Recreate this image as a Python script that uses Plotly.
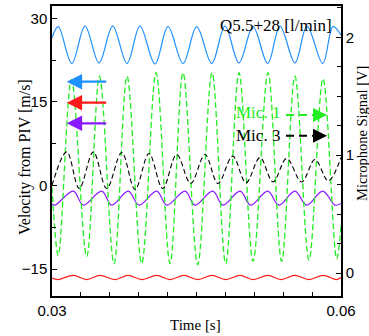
import plotly.graph_objects as go

# ---------------- data ----------------
blue_t = [0.03000, 0.03065, 0.03205, 0.03343, 0.03488, 0.03630, 0.03779, 0.03913,
          0.04069, 0.04204, 0.04360, 0.04502, 0.04658, 0.04796, 0.04941, 0.05087,
          0.05239, 0.05367, 0.05522, 0.05647, 0.05810, 0.05917, 0.06000]
blue_v = [26.5, 28.5, 21.9, 28.6, 22.0, 28.6, 21.9, 28.6, 21.8, 28.5, 21.9, 28.5,
          21.9, 28.6, 22.0, 28.5, 21.9, 28.6, 22.0, 28.6, 21.9, 28.5, 27.0]

purple_t = [0.03000, 0.03031, 0.03221, 0.03325, 0.03516, 0.03620, 0.03792, 0.03903,
            0.04087, 0.04191, 0.04381, 0.04484, 0.04668, 0.04775, 0.04952, 0.05063,
            0.05239, 0.05356, 0.05522, 0.05644, 0.05810, 0.05938, 0.06000]
purple_v = [-3.3, -3.5, -1.0, -3.5, -1.0, -3.5, -1.0, -3.5, -1.0, -3.5, -1.0, -3.5,
            -1.0, -3.5, -1.0, -3.5, -1.0, -3.5, -1.0, -3.5, -1.0, -3.5, -3.2]

red_t = [0.03000, 0.03062, 0.03221, 0.03360, 0.03498, 0.03654, 0.03789, 0.03934,
         0.04087, 0.04225, 0.04370, 0.04512, 0.04661, 0.04803, 0.04952, 0.05087,
         0.05242, 0.05377, 0.05522, 0.05668, 0.05813, 0.05955, 0.06000]
red_v = [-16.6, -16.85, -16.1, -16.85, -16.1, -16.85, -16.1, -16.85, -16.1, -16.85,
         -16.1, -16.85, -16.1, -16.85, -16.1, -16.85, -16.1, -16.85, -16.1, -16.85,
         -16.1, -16.85, -16.5]

mic1_t = [0.03000, 0.03065, 0.03202, 0.03360, 0.03493, 0.03644, 0.03779, 0.03931,
          0.04080, 0.04225, 0.04360, 0.04512, 0.04661, 0.04803, 0.04941, 0.05087,
          0.05242, 0.05384, 0.05522, 0.05668, 0.05813, 0.05955, 0.06000]
mic1_v = [0.73, 0.15, 1.64, 0.14, 1.67, 0.08, 1.67, 0.08, 1.70, 0.08, 1.70, 0.07,
          1.70, 0.08, 1.70, 0.10, 1.70, 0.10, 1.67, 0.11, 1.65, 0.12, 0.40]

mic3_t = [0.03000, 0.03153, 0.03283, 0.03429, 0.03568, 0.03724, 0.03862, 0.04007,
          0.04149, 0.04294, 0.04440, 0.04588, 0.04723, 0.04876, 0.05014, 0.05159,
          0.05294, 0.05436, 0.05592, 0.05730, 0.05868, 0.06000]
mic3_v = [0.745, 1.028, 0.717, 1.028, 0.717, 1.023, 0.709, 1.014, 0.717, 1.006,
          0.760, 1.006, 0.760, 0.992, 0.765, 0.980, 0.773, 0.972, 0.773, 0.963,
          0.782, 0.980]

x_ticks = [0.03, 0.06]
y_ticks = [-15, 0, 15, 30]
y2_ticks = [0, 1, 2]

title_text = "Q5.5+28 [l/min]"
mic1_label = "Mic. 1"
mic3_label = "Mic. 3"

# ---------------- figure ----------------
W, H = 369, 336
L, R, T, B = 52, 28, 6, 40
PW, PH = W - L - R, H - T - B


def px(x):
    return (x - L) / PW


def py(y):
    return (H - B - y) / PH


SERIF = "Liberation Serif, Times New Roman, serif"
SANS = "Liberation Sans, Arial, sans-serif"

BLUE = "#1E90FF"
RED = "#FF1A1A"
PURPLE = "#8A1AFF"
GREEN = "#22EE22"

fig = go.Figure()
fig.add_trace(go.Scatter(x=blue_t, y=blue_v, mode="lines", line=dict(color=BLUE, width=1.2, shape="spline"), yaxis="y"))
fig.add_trace(go.Scatter(x=mic1_t, y=mic1_v, mode="lines", line=dict(color=GREEN, width=1.3, shape="spline", dash="6px,3px"), yaxis="y2"))
fig.add_trace(go.Scatter(x=mic3_t, y=mic3_v, mode="lines", line=dict(color="black", width=1.1, shape="spline", dash="5px,3px"), yaxis="y2"))
fig.add_trace(go.Scatter(x=purple_t, y=purple_v, mode="lines", line=dict(color=PURPLE, width=1.2, shape="spline"), yaxis="y"))
fig.add_trace(go.Scatter(x=red_t, y=red_v, mode="lines", line=dict(color=RED, width=1.2, shape="spline"), yaxis="y"))

ann = []
shapes = []
# left-pointing solid arrows
for col, yy in [(BLUE, 81.7), (RED, 102.7), (PURPLE, 123.3)]:
    ann.append(dict(x=px(66.7), y=py(yy), xref="paper", yref="paper", text="", showarrow=True,
                    ax=41, ay=0, arrowhead=2, arrowsize=1.4, arrowwidth=2.2, arrowcolor=col))
# dashed right-pointing arrows
for col, yy in [(GREEN, 115), ("black", 135.7)]:
    shapes.append(dict(type="line", xref="paper", yref="paper", x0=px(286), x1=px(317),
                       y0=py(yy), y1=py(yy), line=dict(color=col, width=2, dash="8px,5px")))
    ann.append(dict(x=px(327), y=py(yy), xref="paper", yref="paper", text="", showarrow=True,
                    ax=-9, ay=0, arrowhead=2, arrowsize=1.4, arrowwidth=2, arrowcolor=col))

ann.append(dict(x=px(218), y=py(25), xref="paper", yref="paper", text=title_text, showarrow=False,
                xanchor="left", yanchor="middle", font=dict(family=SERIF, size=17, color="black")))
ann.append(dict(x=px(234), y=py(113), xref="paper", yref="paper", text=mic1_label, showarrow=False,
                xanchor="left", yanchor="middle", font=dict(family=SERIF, size=17, color=GREEN)))
ann.append(dict(x=px(234), y=py(135), xref="paper", yref="paper", text=mic3_label, showarrow=False,
                xanchor="left", yanchor="middle", font=dict(family=SERIF, size=17, color="black")))
# axis titles
ann.append(dict(x=px(25), y=py(157), xref="paper", yref="paper", text="Velocity from PIV [m/s]", showarrow=False,
                textangle=-90, xanchor="center", yanchor="middle", font=dict(family=SERIF, size=16, color="black")))
ann.append(dict(x=px(362), y=py(134), xref="paper", yref="paper", text="Microphone Signal [V]", showarrow=False,
                textangle=-90, xanchor="center", yanchor="middle", font=dict(family=SERIF, size=14.5, color="black")))
ann.append(dict(x=px(195), y=py(325), xref="paper", yref="paper", text="Time [s]", showarrow=False,
                xanchor="center", yanchor="middle", font=dict(family=SERIF, size=15, color="black")))

fig.update_layout(
    width=W, height=H,
    margin=dict(l=L, r=R, t=T, b=B, autoexpand=False),
    paper_bgcolor="white", plot_bgcolor="white",
    showlegend=False,
    annotations=ann, shapes=shapes,
    xaxis=dict(range=[0.03, 0.06], tickvals=x_ticks, ticktext=["0.03", "0.06"],
               ticks="inside", ticklen=4, tickcolor="black",
               minor=dict(dtick=0.003, tick0=0.03, ticks="inside", ticklen=4, tickcolor="black"),
               showline=True, linecolor="black", linewidth=1.5, mirror=True,
               showgrid=False, zeroline=False,
               tickfont=dict(family=SANS, size=15, color="black")),
    yaxis=dict(range=[-19.8, 32.2], tickvals=y_ticks, ticktext=["\u221215", "0", "15", "30"],
               ticks="inside", ticklen=5, tickcolor="black",
               minor=dict(dtick=7.5, tick0=0, ticks="inside", ticklen=4, tickcolor="black"),
               showline=True, linecolor="black", linewidth=1.5,
               showgrid=False, zeroline=False,
               tickfont=dict(family=SANS, size=15, color="black")),
    yaxis2=dict(range=[-0.195, 2.266], tickvals=y2_ticks, overlaying="y", side="right",
                ticks="inside", ticklen=5, tickcolor="black",
                minor=dict(dtick=0.25, tick0=0, ticks="inside", ticklen=4, tickcolor="black"),
                showline=True, linecolor="black", linewidth=1.5,
                showgrid=False, zeroline=False,
                tickfont=dict(family=SANS, size=15, color="black")),
)

fig.write_html("out.html", config={"displayModeBar": False},
               post_script="document.body.style.margin='0';document.body.style.padding='0';")
